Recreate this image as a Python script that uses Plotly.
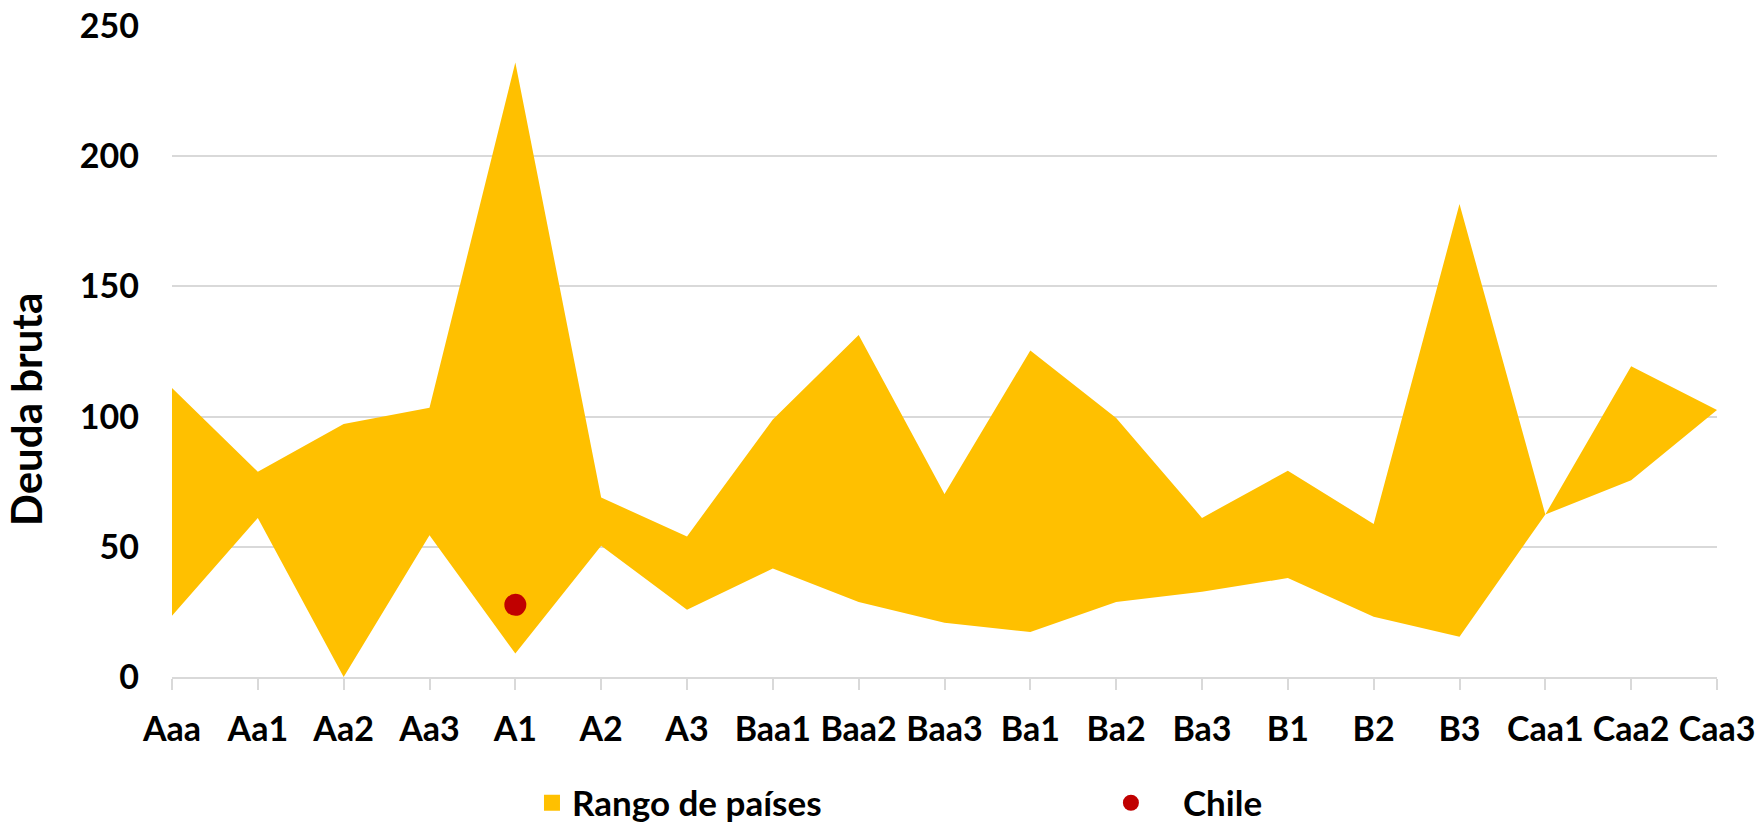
import plotly.graph_objects as go

categories = ["Aaa", "Aa1", "Aa2", "Aa3", "A1", "A2", "A3", "Baa1", "Baa2", "Baa3",
              "Ba1", "Ba2", "Ba3", "B1", "B2", "B3", "Caa1", "Caa2", "Caa3"]
range_min = [23.5, 61.1, 0.0, 54.4, 9.0, 50.4, 25.8, 41.7, 28.8, 20.8,
             17.3, 28.8, 32.7, 38.0, 23.1, 15.5, 62.4, 75.6, 102.5]
range_max = [111.0, 78.8, 97.2, 103.4, 236.0, 68.9, 54.0, 98.9, 131.3, 70.3,
             125.4, 99.5, 61.1, 79.2, 58.8, 181.6, 62.4, 119.3, 102.5]
chile_category = ["A1"]
chile_value = [27.7]
y_ticks = [0, 50, 100, 150, 200, 250]

YELLOW = "#FFC000"
RED = "#C00000"
GRID = "#D9D9D9"
FONT = "Lato"

fig = go.Figure()
fig.add_trace(go.Scatter(x=categories, y=range_min, mode="lines",
                         line=dict(width=0, color=YELLOW), showlegend=False,
                         hoverinfo="skip"))
fig.add_trace(go.Scatter(x=categories, y=range_max, mode="lines",
                         line=dict(width=0, color=YELLOW), fill="tonexty",
                         fillcolor=YELLOW, showlegend=False, name="Rango de países"))
# legend proxy for the range
fig.add_trace(go.Scatter(x=[None], y=[None], mode="markers", name="Rango de países",
                         marker=dict(symbol="square", size=20, color=YELLOW),
                         legend="legend"))
fig.add_trace(go.Scatter(x=chile_category, y=chile_value, mode="markers", name="Chile",
                         marker=dict(symbol="circle", size=22, color=RED),
                         legend="legend2"))

fig.update_layout(
    width=1760, height=824,
    margin=dict(l=172, r=43, t=26, b=147, autoexpand=False),
    paper_bgcolor="white", plot_bgcolor="white",
    font=dict(family=FONT, color="black", size=34, weight="bold"),
    xaxis=dict(type="category", categoryorder="array", categoryarray=categories,
               range=[0, len(categories) - 1], showgrid=False, zeroline=False,
               showline=True, linecolor=GRID, linewidth=2, automargin=False,
               ticks="outside", ticklen=11, tickwidth=2, tickcolor=GRID,
               ticklabelstandoff=10,
               tickfont=dict(family=FONT, size=34, color="black", weight="bold")),
    yaxis=dict(range=[0, 250], tickvals=y_ticks, showgrid=True, gridcolor=GRID,
               gridwidth=2, zeroline=False, showline=False, ticks="",
               ticklabelstandoff=32, automargin=False,
               tickfont=dict(family=FONT, size=34, color="black", weight="bold")),
    legend=dict(orientation="h", x=0.233, y=-0.1935, xanchor="left", yanchor="middle",
                font=dict(family=FONT, size=35, color="black", weight="bold"),
                itemwidth=30, bgcolor="rgba(0,0,0,0)"),
    legend2=dict(orientation="h", x=0.587, y=-0.1935, xanchor="left", yanchor="middle",
                 font=dict(family=FONT, size=35, color="black", weight="bold"),
                 itemwidth=94, bgcolor="rgba(0,0,0,0)"),
    annotations=[dict(text="Deuda bruta", textangle=-90, xref="paper", yref="paper",
                      x=-0.0945, y=0.4117, xanchor="center", yanchor="middle",
                      showarrow=False,
                      font=dict(family=FONT, size=42, color="black", weight="bold"))],
    showlegend=True,
)

fig.write_html("out.html", config={"displayModeBar": False},
               post_script="document.body.style.margin='0';document.body.style.overflow='hidden';")
